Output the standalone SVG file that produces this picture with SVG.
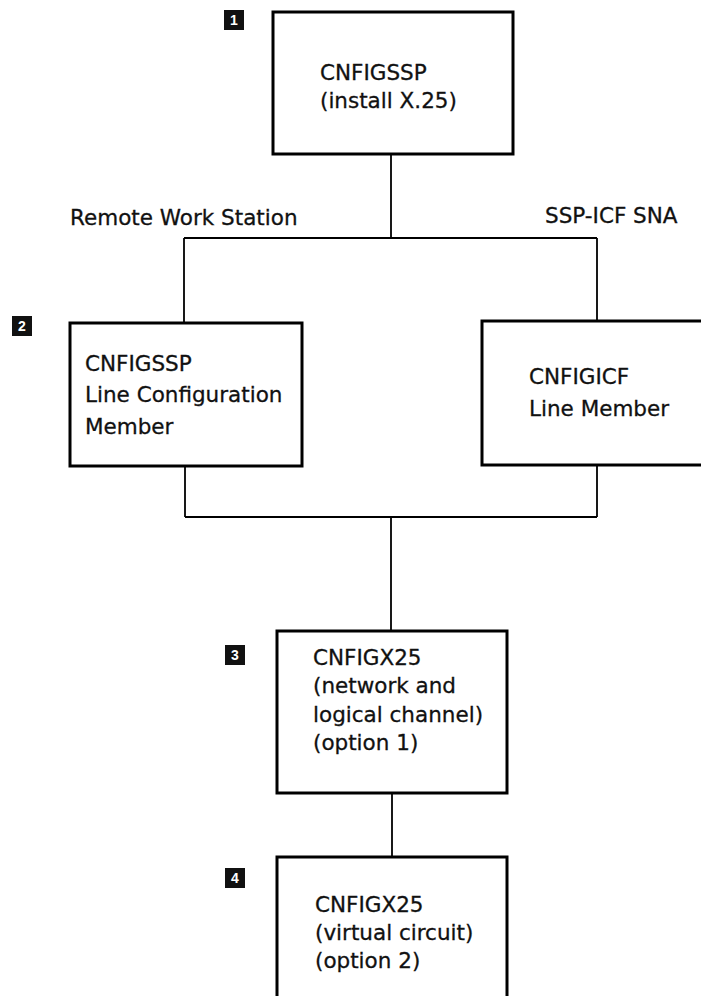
<svg xmlns="http://www.w3.org/2000/svg" width="701" height="996" viewBox="0 0 701 996">
<style>
.box{fill:#fff;stroke:#000;stroke-width:3}
.con{fill:none;stroke:#000;stroke-width:1.8}
.t{font-family:"DejaVu Sans","Liberation Sans",Arial,sans-serif;font-size:21.5px;fill:#111;stroke:#111;stroke-width:0.3}
.lbl{font-family:"DejaVu Sans","Liberation Sans",Arial,sans-serif;font-size:21.5px;fill:#111;stroke:#111;stroke-width:0.3}
.badge{fill:#111}
.bt{font-family:"Liberation Sans",Arial,sans-serif;font-size:14px;font-weight:bold;fill:#fff;text-anchor:middle}
</style>
<rect width="701" height="996" fill="#fff"/>
<g id="connectors">
<path class="con" d="M391,154 V238 M184,238 H597 M184,238 V323 M597,238 V321"/>
<path class="con" d="M185,466 V517 M597,465 V517 M185,517 H597 M391,517 V631"/>
<path class="con" d="M392,793 V857"/>
</g>
<g id="label-rws"><text class="lbl" x="70" y="225">Remote Work Station</text></g>
<g id="label-sna"><text class="lbl" x="545" y="223">SSP-ICF SNA</text></g>
<g id="node1">
<rect class="box" x="273" y="12" width="240" height="142"/>
<text class="t" x="320" y="80">CNFIGSSP</text>
<text class="t" x="320" y="108">(install X.25)</text>
<rect class="badge" x="224" y="10" width="20" height="20"/>
<text class="bt" x="234" y="25">1</text>
</g>
<g id="node2">
<rect class="box" x="70" y="323" width="232" height="143"/>
<text class="t" x="85" y="371">CNFIGSSP</text>
<text class="t" x="85" y="402">Line Configuration</text>
<text class="t" x="85" y="434">Member</text>
<rect class="badge" x="12" y="316" width="20" height="20"/>
<text class="bt" x="22" y="331">2</text>
</g>
<g id="node2b">
<rect class="box" x="482" y="321" width="240" height="144"/>
<text class="t" x="529" y="384">CNFIGICF</text>
<text class="t" x="529" y="416">Line Member</text>
</g>
<g id="node3">
<rect class="box" x="277" y="631" width="230" height="162"/>
<text class="t" x="313" y="665">CNFIGX25</text>
<text class="t" x="313" y="693">(network and</text>
<text class="t" x="313" y="722">logical channel)</text>
<text class="t" x="313" y="750">(option 1)</text>
<rect class="badge" x="225" y="645" width="20" height="20"/>
<text class="bt" x="235" y="660">3</text>
</g>
<g id="node4">
<rect class="box" x="277" y="857" width="230" height="160"/>
<text class="t" x="315" y="912">CNFIGX25</text>
<text class="t" x="315" y="940">(virtual circuit)</text>
<text class="t" x="315" y="968">(option 2)</text>
<rect class="badge" x="225" y="868" width="20" height="20"/>
<text class="bt" x="235" y="883">4</text>
</g>
</svg>
